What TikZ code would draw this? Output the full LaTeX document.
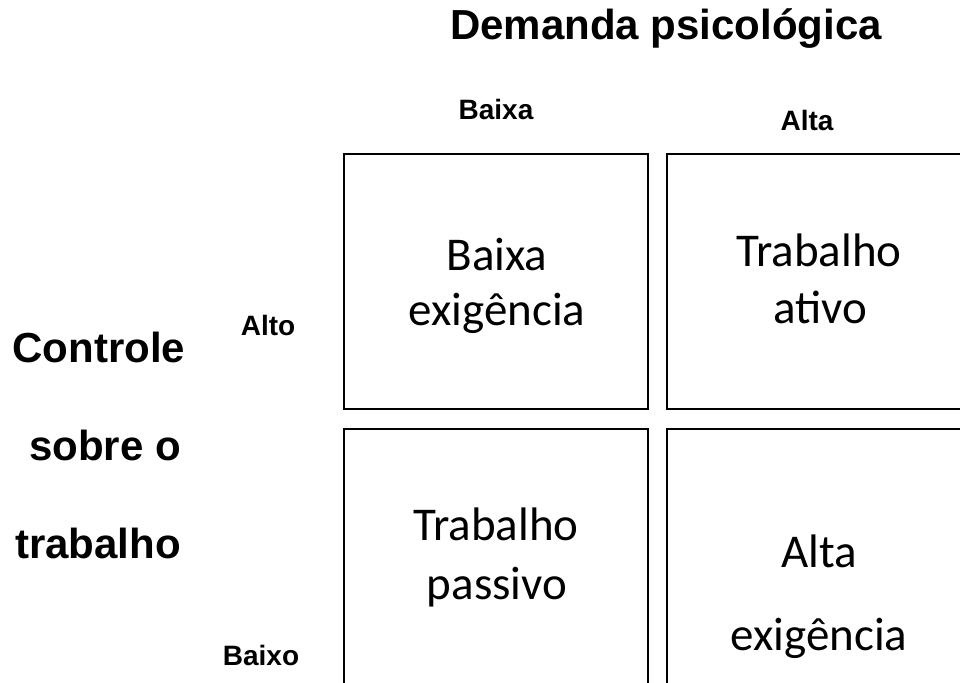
\documentclass[tikz,border=0pt]{standalone}
\usepackage{fontspec}
\newfontfamily\headfont{Liberation Sans}
\newfontfamily\cellfont{Carlito}

\tikzset{
  quadrant/.style={draw, line width=1.6pt, minimum width=304pt, minimum height=255pt, inner sep=0pt, outer sep=0pt},
  celltext/.style={anchor=base, inner sep=0pt, font=\cellfont\fontsize{47}{56}\selectfont},
  axislabel/.style={anchor=base, inner sep=0pt, font=\headfont\bfseries\fontsize{42}{50}\selectfont},
  levellabel/.style={anchor=base, inner sep=0pt, font=\headfont\bfseries\fontsize{28}{34}\selectfont}
}

\begin{document}
\begin{tikzpicture}[x=1pt,y=-1pt]
\useasboundingbox (0,0) rectangle (960,682);
\clip (0,0) rectangle (960,682);
% quadrants
\node[quadrant] (lowstrain) at (496,281.5) {};
\node[quadrant] (active) at (819,281.5) {};
\node[quadrant] (passive) at (496,556.5) {};
\node[quadrant] (highstrain) at (819,556.5) {};
% quadrant texts
\node[celltext] (lowstrainA) at (497,270) {Baixa};
\node[celltext] (lowstrainB) at (497,325) {exigência};
\node[celltext] (activeA) at (819,266) {Trabalho};
\node[celltext] (activeB) at (820,323) {ativo};
\node[celltext] (passiveA) at (496,540) {Trabalho};
\node[celltext] (passiveB) at (497,599) {passivo};
\node[celltext] (highstrainA) at (819,567) {Alta};
\node[celltext] (highstrainB) at (819,650) {exigência};
% axes
\node[axislabel] (demand) at (666,40) {Demanda psicológica};
\node[levellabel] (demandlow) at (496,120) {Baixa};
\node[levellabel] (demandhigh) at (807,130) {Alta};
\node[axislabel] (controlA) at (99,362) {Controle};
\node[axislabel] (controlB) at (105,460) {sobre o};
\node[axislabel] (controlC) at (98,558) {trabalho};
\node[levellabel] (controlhigh) at (268,335) {Alto};
\node[levellabel] (controllow) at (261,665) {Baixo};
\end{tikzpicture}
\end{document}
